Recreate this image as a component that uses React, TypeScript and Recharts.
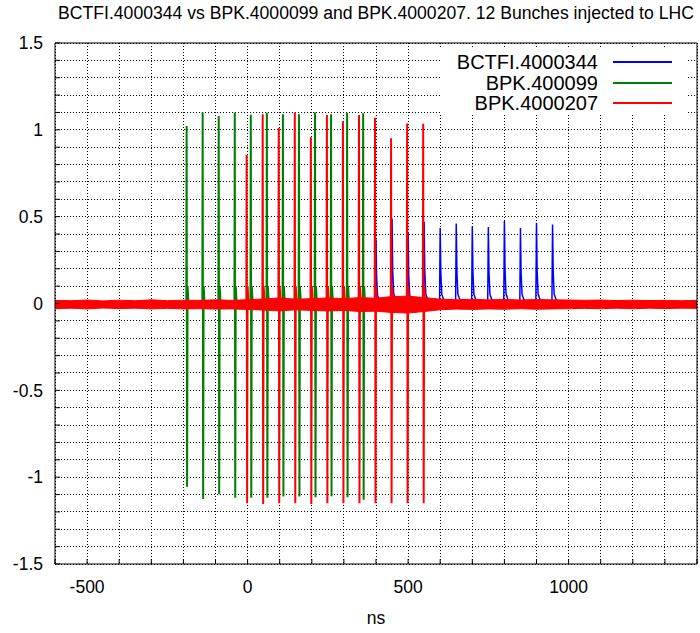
import React from 'react';
import { ComposedChart, Line, Area, XAxis, YAxis, CartesianGrid, Legend } from 'recharts';

// Titre et axes
const chartTitle = 'BCTFI.4000344 vs BPK.4000099 and BPK.4000207. 12 Bunches injected to LHC';
const xTicks = [-600, -500, -400, -300, -200, -100, 0, 100, 200, 300, 400, 500, 600, 700, 800, 900, 1000, 1100, 1200, 1300, 1400];
const xLabels = [-500, 0, 500, 1000];
const yTicks = [-1.5, -1.4, -1.3, -1.2, -1.1, -1, -0.9, -0.8, -0.7, -0.6, -0.5, -0.4, -0.3, -0.2, -0.1, 0,
  0.1, 0.2, 0.3, 0.4, 0.5, 0.6, 0.7, 0.8, 0.9, 1, 1.1, 1.2, 1.3, 1.4, 1.5];
const yLabels = [-1.5, -1, -0.5, 0, 0.5, 1, 1.5];

// BCTFI.4000344 (bleu) : impulsions positives
const blueTimes = [400, 450, 500, 550, 600, 650, 700, 750, 800, 850, 900, 950];
const bluePeaks = [0.37, 0.49, 0.41, 0.47, 0.435, 0.46, 0.445, 0.44, 0.475, 0.435, 0.465, 0.455];
// forme d'une impulsion (décalage en ns, fraction du pic)
const blueShapeDt = [-2, 0, 2, 5, 10, 20];
const blueShapeK = [0, 1, 0.4, 0.12, 0.06, 0];

// BPK.400099 (vert) : impulsions bipolaires
const greenTimes = [-190, -140, -90, -40, 10, 60, 110, 160, 210, 260, 310, 360];
const greenPeaks = [1.022, 1.1, 1.08, 1.1, 1.087, 1.098, 1.09, 1.09, 1.1, 1.09, 1.098, 1.095];
const greenTroughs = [-1.055, -1.125, -1.097, -1.118, -1.118, -1.118, -1.112, -1.112, -1.115, -1.11, -1.115, -1.13];

// BPK.4000207 (rouge)
const redTimes = [-3, 47, 97, 147, 197, 247, 297, 347, 397, 447, 497, 547];
const redPeaks = [0.855, 1.09, 1.01, 1.1, 0.958, 1.085, 1.05, 1.085, 1.07, 0.951, 1.037, 1.035];
const redTroughs = [-1.15, -1.155, -1.15, -1.15, -1.155, -1.15, -1.15, -1.15, -1.15, -1.15, -1.15, -1.15];

// enveloppe du bruit rouge autour de 0
const noiseTimes = [-600, -550, -500, -450, -400, -350, -300, -250, -200, -150, -100, -50, 0, 50, 100, 150, 200,
  250, 300, 350, 400, 450, 500, 550, 600, 650, 700, 750, 800, 850, 900, 950, 1000, 1050, 1100, 1150, 1200,
  1250, 1300, 1350, 1400];
const noiseHigh = [0.018, 0.016, 0.02, 0.015, 0.019, 0.016, 0.021, 0.016, 0.019, 0.018, 0.021, 0.018, 0.022, 0.026,
  0.032, 0.025, 0.028, 0.032, 0.028, 0.034, 0.03, 0.04, 0.042, 0.034, 0.025, 0.022, 0.024, 0.021, 0.023, 0.02, 0.023,
  0.021, 0.02, 0.018, 0.02, 0.017, 0.019, 0.017, 0.018, 0.016, 0.018];
const noiseLow = [-0.03, -0.027, -0.031, -0.026, -0.029, -0.027, -0.031, -0.028, -0.031, -0.03, -0.032, -0.031,
  -0.034, -0.038, -0.043, -0.036, -0.04, -0.043, -0.04, -0.046, -0.044, -0.052, -0.055, -0.046, -0.036, -0.032,
  -0.034, -0.031, -0.033, -0.03, -0.033, -0.031, -0.03, -0.028, -0.03, -0.027, -0.03, -0.027, -0.029, -0.027,
  -0.028];

const bipolar = (times: number[], peaks: number[], troughs: number[]) =>
  times.flatMap((t, i) => [
    { x: t - 1, y: 0 },
    { x: t, y: peaks[i] },
    { x: t + 1.5, y: troughs[i] },
    { x: t + 3, y: 0.1 },
    { x: t + 6, y: 0 },
    { x: t + 6.5, y: null },
  ]);

const blueData = blueTimes.flatMap((t, i) => [
  ...blueShapeDt.map((dt, j) => ({ x: t + dt, y: bluePeaks[i] * blueShapeK[j] })),
  { x: t + 21, y: null },
]);
const greenData = bipolar(greenTimes, greenPeaks, greenTroughs);
const redData = bipolar(redTimes, redPeaks, redTroughs);
const noiseData = noiseTimes.map((t, i) => ({ x: t, band: [noiseLow[i], noiseHigh[i]] }));

const legendItems = [
  { name: 'BCTFI.4000344', color: '#0000ff' },
  { name: 'BPK.400099', color: '#008000' },
  { name: 'BPK.4000207', color: '#ff0000' },
];

const renderLegend = () => (
  <div style={{ background: '#fff', width: 248, height: 66, paddingTop: 4, boxSizing: 'border-box' }}>
    {legendItems.map((item) => (
      <div key={item.name} style={{ display: 'flex', alignItems: 'center', height: 20.5 }}>
        <span style={{ width: 158, textAlign: 'right', fontSize: 20, lineHeight: '20.5px', color: '#000' }}>{item.name}</span>
        <span style={{ marginLeft: 15, width: 59, height: 2, background: item.color }} />
      </div>
    ))}
  </div>
);

const font = '"Liberation Sans", Arial, Helvetica, sans-serif';

const App: React.FC = () => {
  return (
    <div style={{ position: 'absolute', left: 0, top: 0, width: 700, height: 633, fontFamily: font, background: '#fff' }}>
      <div style={{ position: 'absolute', left: 0, top: 5, width: 752, textAlign: 'center', fontSize: 17.6, lineHeight: '17.6px', whiteSpace: 'nowrap' }}>
        {chartTitle}
      </div>
      <ComposedChart width={700} height={633} margin={{ top: 43, right: 3, bottom: 0, left: 0 }}>
        <CartesianGrid stroke="#000" strokeDasharray="1 2" shapeRendering="crispEdges" />
        <XAxis
          dataKey="x"
          type="number"
          domain={[-600, 1400]}
          ticks={xTicks}
          interval={0}
          allowDataOverflow
          height={69}
          tickSize={-5}
          tickMargin={22}
          tickFormatter={(v: number) => (xLabels.includes(v) ? String(v) : '')}
          tick={{ fill: '#000', fontSize: 17.5 }}
          axisLine={{ stroke: '#000' }}
          tickLine={{ stroke: '#000' }}
          label={{ value: 'ns', position: 'insideBottom', offset: 9, fill: '#000', fontSize: 17.5 }}
        />
        <YAxis
          type="number"
          domain={[-1.5, 1.5]}
          ticks={yTicks}
          interval={0}
          allowDataOverflow
          width={55}
          tickSize={-5}
          tickMargin={17}
          tickFormatter={(v: number) => (yLabels.includes(v) ? String(v) : '')}
          tick={{ fill: '#000', fontSize: 17.5 }}
          axisLine={{ stroke: '#000' }}
          tickLine={{ stroke: '#000' }}
        />
        <XAxis
          xAxisId="top"
          orientation="top"
          type="number"
          domain={[-600, 1400]}
          ticks={xTicks}
          interval={0}
          mirror
          tick={false}
          tickSize={5}
          axisLine={{ stroke: '#000' }}
          tickLine={{ stroke: '#000' }}
        />
        <YAxis
          yAxisId="right"
          orientation="right"
          type="number"
          domain={[-1.5, 1.5]}
          ticks={yTicks}
          interval={0}
          mirror
          tick={false}
          tickSize={5}
          axisLine={{ stroke: '#000' }}
          tickLine={{ stroke: '#000' }}
        />
        <Legend
          content={renderLegend}
          layout="vertical"
          align="center"
          verticalAlign="middle"
          wrapperStyle={{ top: 48, left: 440, width: 248, height: 66 }}
        />
        <Line data={blueData} dataKey="y" name="BCTFI.4000344" stroke="#0000ff" strokeWidth={1.5} dot={false} isAnimationActive={false} />
        <Line data={greenData} dataKey="y" name="BPK.400099" stroke="#008000" strokeWidth={2} dot={false} isAnimationActive={false} />
        <Area data={noiseData} dataKey="band" type="linear" stroke="#ff0000" strokeWidth={1} fill="#ff0000" fillOpacity={1} isAnimationActive={false} legendType="none" zIndex={450} />
        <Line data={redData} dataKey="y" name="BPK.4000207" stroke="#ff0000" strokeWidth={2} dot={false} isAnimationActive={false} zIndex={460} />
      </ComposedChart>
    </div>
  );
};

export default App;
